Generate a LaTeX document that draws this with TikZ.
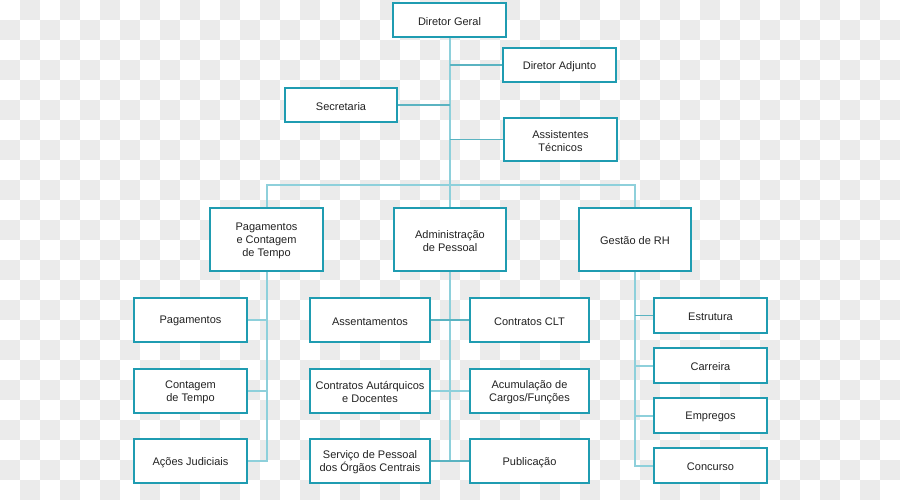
\documentclass[tikz,border=0pt]{standalone}
\usepackage{fontspec}
\setmainfont{Liberation Sans}
\definecolor{bgsq}{HTML}{EBEBEB}
\definecolor{boxc}{HTML}{1F9CB1}
\definecolor{trunkc}{HTML}{8ED0DB}
\definecolor{branchc}{HTML}{5AB3C1}
\definecolor{txt}{HTML}{222222}
\tikzset{
  box/.style={draw=boxc, line width=1.3pt, fill=white, inner sep=0pt},
  lbl/.style={align=center, inner sep=0pt, yshift=-1.3pt, text=txt,
    font=\fontsize{11}{13.3}\selectfont},
  trunk/.style={draw=trunkc, line width=2pt},
  branch/.style={draw=branchc, line width=1.3pt},
}
\newcommand\orgbox[5]{\node[box, minimum width=#2pt, minimum height=#3pt,
  label={[lbl]center:#5}] (#1) at (#4) {};}
\begin{document}
\begin{tikzpicture}[x=1pt,y=-1pt]
\useasboundingbox (0,0) rectangle (900,500);
\fill[white] (0,0) rectangle (900,500);
\foreach \i in {0,...,44}{
  \foreach \j in {0,...,24}{
    \pgfmathtruncatemacro\myparity{mod(\i+\j,2)}
    \ifnum\myparity=1 \fill[bgsq] (\i*20,\j*20) rectangle ++(20,20); \fi
  }
}
\coordinate (busy) at (0,185);
\orgbox{dg}{113}{34}{449.5,20}{Diretor Geral}
\orgbox{da}{113}{34}{559.5,65}{Diretor Adjunto}
\orgbox{sec}{112}{34}{341,105}{Secretaria}
\orgbox{at}{113}{43}{560.5,139.5}{Assistentes\\Técnicos}
\orgbox{pag}{113}{63}{266.5,239.5}{Pagamentos\\e Contagem\\de Tempo}
\orgbox{adm}{112}{63}{450,239.5}{Administração\\de Pessoal}
\orgbox{ges}{112}{63}{635,239.5}{Gestão de RH}
\orgbox{p1}{113}{44}{190.5,320}{Pagamentos}
\orgbox{p2}{113}{44}{190.5,391}{Contagem\\de Tempo}
\orgbox{p3}{113}{44}{190.5,461}{Ações Judiciais}
\orgbox{a1}{120}{44}{370,320}{Assentamentos}
\orgbox{a2}{120}{44}{370,391}{Contratos Autárquicos\\e Docentes}
\orgbox{a3}{120}{44}{370,461}{Serviço de Pessoal\\dos Órgãos Centrais}
\orgbox{b1}{119}{44}{529.5,320}{Contratos CLT}
\orgbox{b2}{119}{44}{529.5,391}{Acumulação de\\Cargos/Funções}
\orgbox{b3}{119}{44}{529.5,461}{Publicação}
\orgbox{g1}{113}{35}{710.5,315.5}{Estrutura}
\orgbox{g2}{113}{35}{710.5,365.5}{Carreira}
\orgbox{g3}{113}{35}{710.5,415.5}{Empregos}
\orgbox{g4}{113}{35}{710.5,465.5}{Concurso}
% top trunk
\draw[trunk] (dg.south -| adm.north) -- (adm.north);
\draw[branch] (da.west) -- (da.west -| adm.north);
\draw[branch] (sec.east) -- (sec.east -| adm.north);
\draw[branch] (at.west) -- (at.west -| adm.north);
\draw[trunk] (pag.north) -- (pag.north |- busy) -- (ges.north |- busy) -- (ges.north);
% left column
\draw[trunk] (pag.south) |- (p3.east);
\draw[trunk] (p1.east) -- (p1.east -| pag.south);
\draw[trunk] (p2.east) -- (p2.east -| pag.south);
% middle column
\draw[trunk] (adm.south) -- (adm.south |- b3.west);
\draw[branch] (a1.east) -- (b1.west);
\draw[trunk] (a2.east) -- (b2.west);
\draw[branch] (a3.east) -- (b3.west);
% right column
\draw[trunk] (ges.south) |- (g4.west);
\draw[branch] (g1.west) -- (g1.west -| ges.south);
\draw[trunk] (g2.west) -- (g2.west -| ges.south);
\draw[trunk] (g3.west) -- (g3.west -| ges.south);
\end{tikzpicture}
\end{document}
